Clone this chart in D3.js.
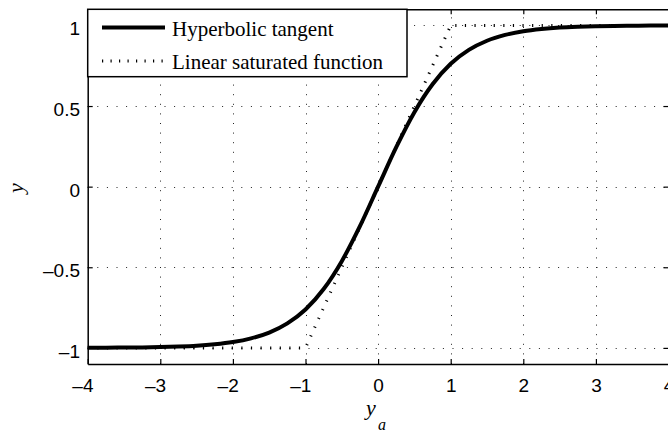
<!DOCTYPE html>
<html><head><meta charset="utf-8">
<script src="https://cdn.jsdelivr.net/npm/d3@7"></script>
<style>
html,body{margin:0;padding:0;background:#fff;}
svg{display:block;}
</style></head>
<body>
<svg id="chart" width="668" height="430"></svg>
<script>
// ---- data ----
const xTicks = [-4, -3, -2, -1, 0, 1, 2, 3, 4];
const yTicks = [-1, -0.5, 0, 0.5, 1];
const seriesNames = ["Hyperbolic tangent", "Linear saturated function"];
const tanhX = [-4, -3.75, -3.5, -3.25, -3, -2.75, -2.5, -2.25, -2, -1.75, -1.5, -1.25, -1, -0.75, -0.5, -0.25, 0,
               0.25, 0.5, 0.75, 1, 1.25, 1.5, 1.75, 2, 2.25, 2.5, 2.75, 3, 3.25, 3.5, 3.75, 4];
const tanhY = [-0.999, -0.999, -0.998, -0.997, -0.995, -0.992, -0.987, -0.978, -0.964, -0.941, -0.905, -0.848, -0.762, -0.635, -0.462, -0.245, 0,
               0.245, 0.462, 0.635, 0.762, 0.848, 0.905, 0.941, 0.964, 0.978, 0.987, 0.992, 0.995, 0.997, 0.998, 0.999, 0.999];
const satX = [-4, -1, 1, 4];
const satY = [-1, -1, 1, 1];
const xLabel = "y", xLabelSub = "a", yLabel = "y";

// ---- layout ----
const svg = d3.select("#chart");
const L = 87.7, R = 668.5, T = 9.3, B = 364;
const x = d3.scaleLinear().domain([-4, 4]).range([L, R]);
const y = d3.scaleLinear().domain([-1.1, 1.1]).range([B, T]);
const fmt = d => (d < 0 ? "\u2013" + String(Math.abs(d)) : String(d));
const sans = "'Liberation Sans', Arial, Helvetica, sans-serif";
const serif = "'Liberation Serif', 'Times New Roman', serif";

// grid
const grid = svg.append("g").attr("stroke", "#222").attr("stroke-width", 1).attr("stroke-dasharray", "1,8.6");
grid.selectAll("line.vx").data(xTicks.filter(d => d > -4 && d < 4)).join("line")
  .attr("x1", d => Math.round(x(d)) + 0.5).attr("x2", d => Math.round(x(d)) + 0.5)
  .attr("y1", B).attr("y2", T);
grid.selectAll("line.hy").data(yTicks).join("line")
  .attr("y1", d => Math.round(y(d)) + 0.5).attr("y2", d => Math.round(y(d)) + 0.5)
  .attr("x1", L).attr("x2", R);

// series
const tanhData = tanhX.map((v, i) => [v, tanhY[i]]);
const satData = satX.map((v, i) => [v, satY[i]]);
const line = d3.line().x(d => x(d[0])).y(d => y(d[1]));
svg.append("path").datum(satData).attr("d", line)
  .attr("fill", "none").attr("stroke", "#000").attr("stroke-width", 3).attr("stroke-dasharray", "1.2,8.4");
svg.append("path").datum(tanhData).attr("d", line.curve(d3.curveMonotoneX))
  .attr("fill", "none").attr("stroke", "#000").attr("stroke-width", 4).attr("stroke-linejoin", "round");

// axes
const axStyle = g => {
  g.select(".domain").attr("stroke", "#000").attr("stroke-width", 1.5);
  g.selectAll(".tick line").attr("stroke", "#000").attr("stroke-width", 1.2);
};
svg.append("g").attr("transform", `translate(0,${B})`)
  .call(d3.axisBottom(x).tickValues(xTicks).tickSize(-5).tickSizeOuter(0).tickFormat(fmt))
  .call(axStyle)
  .call(g => g.selectAll(".tick text")
    .attr("font-family", sans).attr("font-size", 19).attr("fill", "#000")
    .attr("text-anchor", "end").attr("x", 5.3).attr("y", 28).attr("dy", null));
svg.append("g").attr("transform", `translate(0,${T})`)
  .call(d3.axisTop(x).tickValues(xTicks).tickSize(-5).tickSizeOuter(0).tickFormat(""))
  .call(axStyle);
svg.append("g").attr("transform", `translate(${L},0)`)
  .call(d3.axisLeft(y).tickValues(yTicks).tickSize(-5).tickSizeOuter(0).tickFormat(fmt))
  .call(axStyle)
  .call(g => g.selectAll(".tick text")
    .attr("font-family", sans).attr("font-size", 19).attr("fill", "#000")
    .attr("text-anchor", "end").attr("x", -7.7).attr("dy", 9.5));
svg.append("g").attr("transform", `translate(${R},0)`)
  .call(d3.axisRight(y).tickValues(yTicks).tickSize(-5).tickSizeOuter(0).tickFormat(""))
  .call(axStyle);

// axis labels
const xl = svg.append("text").attr("font-family", serif).attr("font-style", "italic").attr("fill", "#000")
  .attr("x", 366).attr("y", 415).attr("font-size", 22);
xl.append("tspan").text(xLabel);
xl.append("tspan").attr("x", 378).attr("y", 430).attr("font-size", 16).text(xLabelSub);
svg.append("text").attr("font-family", serif).attr("font-style", "italic").attr("fill", "#000")
  .attr("font-size", 22).attr("text-anchor", "middle")
  .attr("transform", "translate(23,188) rotate(-90)").text(yLabel);

// legend
const lg = svg.append("g");
lg.append("rect").attr("x", L).attr("y", T).attr("width", 407 - L).attr("height", 76.7 - T)
  .attr("fill", "#fff").attr("stroke", "#000").attr("stroke-width", 1.5);
const rows = [27.5, 61];
lg.append("line").attr("x1", 102).attr("x2", 165).attr("y1", rows[0]).attr("y2", rows[0])
  .attr("stroke", "#000").attr("stroke-width", 4);
lg.append("line").attr("x1", 102).attr("x2", 165).attr("y1", rows[1]).attr("y2", rows[1])
  .attr("stroke", "#000").attr("stroke-width", 3).attr("stroke-dasharray", "1.2,7.3");
lg.selectAll("text").data(seriesNames).join("text")
  .attr("x", 172).attr("y", (d, i) => rows[i] + 8.2)
  .attr("font-family", serif).attr("font-size", 21).attr("fill", "#000").text(d => d);
</script>
</body></html>
